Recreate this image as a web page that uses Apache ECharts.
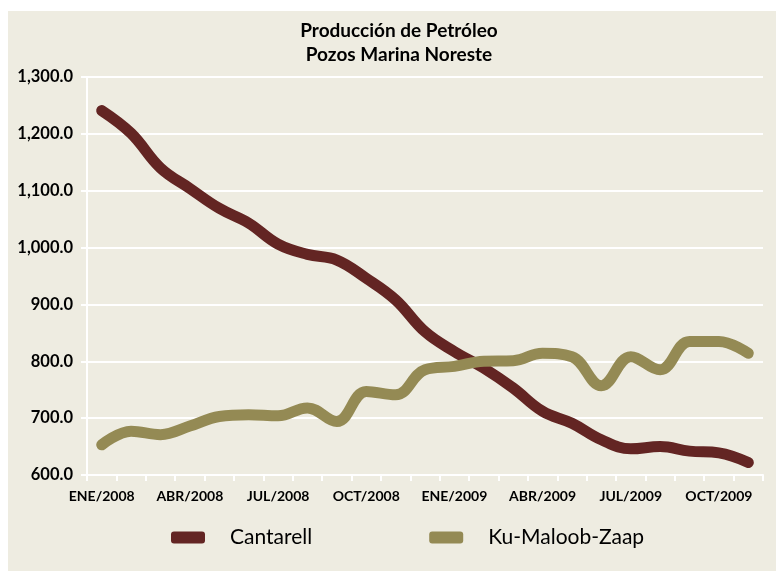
<!DOCTYPE html>
<html>
<head>
<meta charset="utf-8">
<script src="https://cdn.jsdelivr.net/npm/echarts@6/dist/echarts.min.js"></script>
<style>
  html, body { margin: 0; padding: 0; background: #fff; }
  #chart { position: absolute; left: 8px; top: 11px; width: 768px; height: 560px; background: #EEECE1; }
</style>
</head>
<body>
<div id="chart"></div>
<script>
// meses ENE/2008 .. NOV/2009
const months = ['ENE', 'FEB', 'MAR', 'ABR', 'MAY', 'JUN', 'JUL', 'AGO', 'SEP', 'OCT', 'NOV', 'DIC'];
const categories = [];
for (let y = 2008; y <= 2009; y++) {
  months.forEach(m => categories.push(m + '/' + y));
}
categories.pop(); // sin DIC/2009

const cantarell = [1241, 1201, 1140, 1104, 1069, 1043, 1006, 988, 978, 946, 908, 852,
  817, 788, 753, 712, 691, 662, 646, 650, 642, 639, 622];
const kuMaloobZaap = [653, 677, 671, 686, 703, 706, 704, 718, 694, 747, 741, 785,
  791, 800, 801, 814, 808, 757, 808, 785, 835, 835, 814];

const font = 'Lato, sans-serif';

const chart = echarts.init(document.getElementById('chart'));
chart.setOption({
  backgroundColor: '#EEECE1',
  title: {
    text: 'Producción de Petróleo\nPozos Marina Noreste',
    left: 386,
    textAlign: 'center',
    top: 3,
    textStyle: { fontFamily: font, fontWeight: 'bold', fontSize: 19, color: '#000', lineHeight: 24 }
  },
  legend: {
    data: ['Cantarell', 'Ku-Maloob-Zaap'],
    top: 511,
    left: 158,
    icon: 'roundRect',
    itemWidth: 34,
    itemHeight: 12,
    itemGap: 117,
    textStyle: { fontFamily: font, fontSize: 21, color: '#000', padding: [0, 0, 0, 20] }
  },
  grid: { left: 79, right: 13, top: 66, bottom: 96 },
  xAxis: {
    type: 'category',
    data: categories,
    boundaryGap: true,
    axisLine: { lineStyle: { color: '#fff', width: 2 } },
    axisTick: { show: true, length: 6, interval: 0, lineStyle: { color: '#fff', width: 2 } },
    axisLabel: {
      interval: 2,
      margin: 14,
      fontFamily: font, fontWeight: 'bold', fontSize: 14, color: '#000'
    },
    splitLine: { show: false }
  },
  yAxis: {
    type: 'value',
    min: 600,
    max: 1300,
    interval: 100,
    axisLine: { show: true, lineStyle: { color: '#fff', width: 2 } },
    axisTick: { show: true, length: 6, lineStyle: { color: '#fff', width: 2 } },
    axisLabel: {
      margin: 14,
      fontFamily: font, fontWeight: 'bold', fontSize: 16.5, color: '#000',
      formatter: v => v.toLocaleString('en-US', { minimumFractionDigits: 1, maximumFractionDigits: 1 })
    },
    splitLine: { lineStyle: { color: '#fff', width: 2 } }
  },
  series: [
    {
      name: 'Cantarell',
      type: 'line',
      data: cantarell,
      smooth: 0.4,
      showSymbol: false,
      color: '#632523',
      lineStyle: { width: 11, cap: 'round', join: 'round' }
    },
    {
      name: 'Ku-Maloob-Zaap',
      type: 'line',
      data: kuMaloobZaap,
      smooth: 0.4,
      showSymbol: false,
      color: '#948A54',
      lineStyle: { width: 11, cap: 'round', join: 'round' }
    }
  ],
  animation: false
});
</script>
</body>
</html>
